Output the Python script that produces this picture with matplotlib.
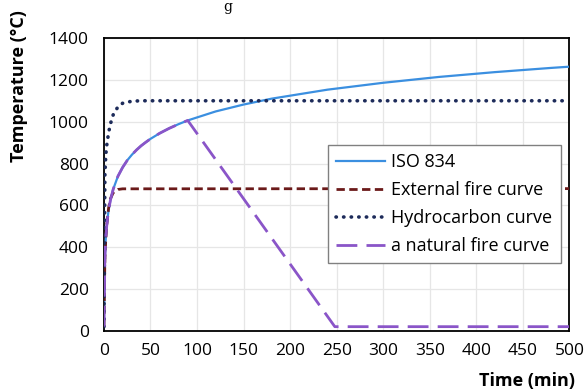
import numpy as np
import matplotlib.pyplot as plt

plt.rcParams['font.family'] = ['Open Sans', 'DejaVu Sans']

# ISO 834 standard curve
t_iso = [0, 1, 2, 3, 4, 5, 7, 10, 15, 20, 25, 30, 35, 40, 45, 50, 60, 70, 80, 90,
         120, 150, 180, 240, 300, 360, 420, 480, 500]
T_iso = [20, 349, 445, 502, 544, 576, 626, 678, 739, 781, 815, 842, 865, 885, 902, 918, 945, 968, 988, 1006,
         1049, 1082, 1110, 1153, 1186, 1214, 1237, 1257, 1263]

# external fire curve
t_ext = [0, 1, 2, 3, 5, 7, 10, 15, 20, 500]
T_ext = [20, 346, 441, 506, 588, 632, 661, 676, 679, 680]

# hydrocarbon curve
t_hc = [0, 1, 2, 3, 5, 7, 10, 15, 20, 30, 40, 500]
T_hc = [20, 743, 843, 887, 948, 990, 1034, 1071, 1088, 1098, 1100, 1100]

# natural fire curve (heating along ISO 834, then linear cooling)
t_nat = [0, 1, 2, 3, 4, 5, 7, 10, 15, 20, 25, 30, 35, 40, 45, 50, 60, 70, 80, 90, 248, 500]
T_nat = [20, 349, 445, 502, 544, 576, 626, 678, 739, 781, 815, 842, 865, 885, 902, 918, 945, 968, 988, 1006, 20, 20]

fig = plt.figure(figsize=(5.84, 3.92), dpi=100)
ax = fig.add_axes([0.178, 0.156, 0.797, 0.747])

ax.plot(t_iso, T_iso, color='#3b8fe0', lw=1.6, label='ISO 834', zorder=3)
ax.plot(t_ext, T_ext, color='#6b1a1a', lw=2.0, ls=(0, (3, 1.6)), label='External fire curve', zorder=3)
ax.plot(t_hc, T_hc, color='#1d2b5a', lw=2.6, ls=(0, (0.1, 2)), dash_capstyle='round',
        label='Hydrocarbon curve', zorder=3)
ax.plot(t_nat, T_nat, color='#8a55c8', lw=2.0, ls=(0, (7.5, 3.3)), label='a natural fire curve', zorder=4)

ax.set_xlim(0, 500)
ax.set_ylim(0, 1400)
ax.set_xticks(np.arange(0, 501, 50))
ax.set_yticks(np.arange(0, 1401, 200))
ax.grid(color='#e6e6e6', lw=0.9)
ax.set_axisbelow(True)
ax.tick_params(length=0, labelsize=12.5)
ax.tick_params(axis='x', pad=9)
ax.tick_params(axis='y', pad=11)
for s in ax.spines.values():
    s.set_linewidth(1.3)
    s.set_color('black')

fig.text(0.033, 0.78, 'Temperature (°C)', fontsize=13, fontweight='bold', rotation=90,
         ha='center', va='center')
fig.text(0.984, 0.004, 'Time (min)', fontsize=13, fontweight='bold', ha='right', va='bottom')

leg = ax.legend(loc='upper left', bbox_to_anchor=(0.482, 0.635), borderaxespad=0, fontsize=13,
                frameon=True, fancybox=False, edgecolor='#808080', framealpha=1, borderpad=0.45,
                handlelength=2.7, handletextpad=0.35, labelspacing=0.55)
leg.get_frame().set_linewidth(1.0)

fig.text(0.39, 1.0, 'g', family='DejaVu Serif', fontsize=10, ha='center', va='top')

fig.savefig('out.png', dpi=100)
